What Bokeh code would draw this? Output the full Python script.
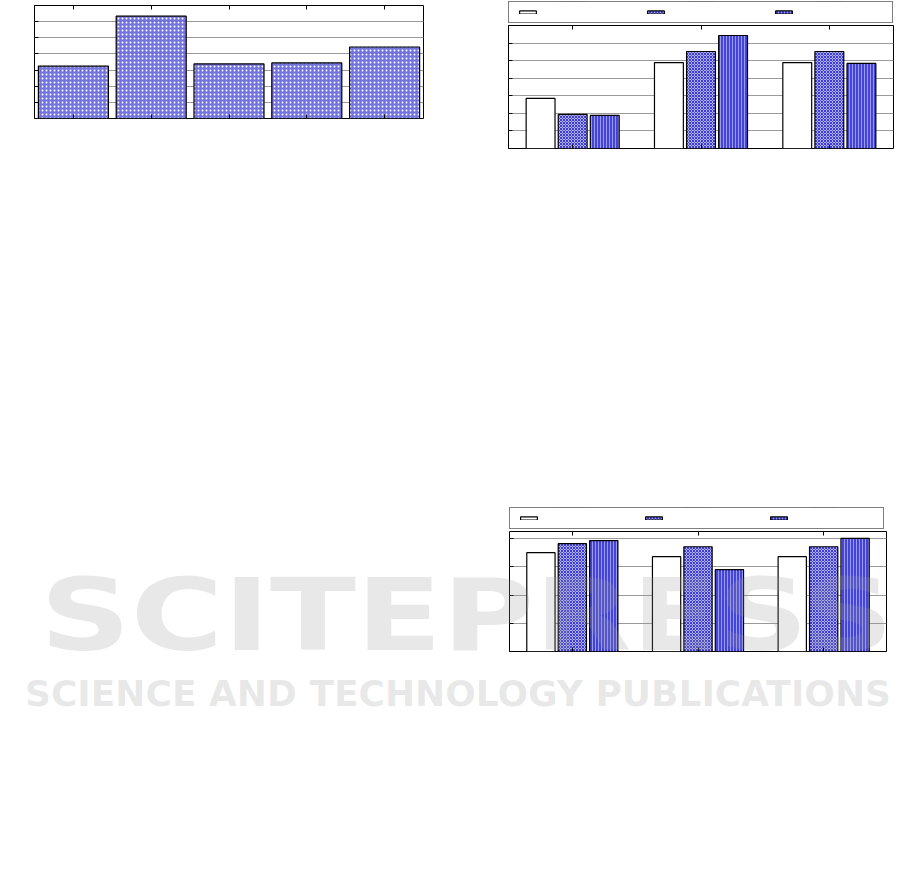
from bokeh.plotting import figure
from bokeh.models import (Range1d, FactorRange, CategoricalAxis, FixedTicker,
                          Legend, LegendItem, ColumnDataSource, Div, Spacer)
from bokeh.layouts import column, row
from bokeh.transform import dodge
from bokeh.embed import file_html
from bokeh.resources import INLINE

# ---------------- data ----------------
cats1 = ["1", "2", "3", "4", "5"]
vals1 = [3.25, 6.34, 3.38, 3.44, 4.43]
ticks1 = [0, 1, 2, 3, 4, 5, 6, 7]

groups = ["1", "2", "3"]

c2_a = [2.85, 4.89, 4.89]
c2_b = [1.94, 5.52, 5.52]
c2_c = [1.88, 6.43, 4.84]
ticks2 = [0, 1, 2, 3, 4, 5, 6, 7]

c3_a = [3.50, 3.36, 3.36]
c3_b = [3.82, 3.71, 3.71]
c3_c = [3.93, 2.90, 4.01]
ticks3 = [0, 1, 2, 3, 4]

wm_title = "SCITEPRESS"
wm_sub = "SCIENCE AND TECHNOLOGY PUBLICATIONS"

# ---------------- styles ----------------
GRID = "#9a9a9a"
STYLE_A = dict(fill_color="white", line_color="black", line_width=1.2)
STYLE_B = dict(fill_color="#b0b0f0", hatch_pattern="diagonal_cross", hatch_color="#3c3cd2",
               hatch_scale=3, hatch_weight=1, line_color="black", line_width=1.2)
STYLE_C = dict(fill_color="#4444d8", hatch_pattern="vertical_line", hatch_color="#9a9af2",
               hatch_scale=3, hatch_weight=1, line_color="black", line_width=1.2)
STYLE_1 = dict(fill_color="#5c5cd8", fill_alpha=0.85, hatch_pattern="dot", hatch_color="white",
               hatch_scale=4, hatch_weight=1.3, line_color="black", line_width=1.2)


def style_axis(ax):
    ax.major_tick_in = 4
    ax.major_tick_out = 0
    ax.minor_tick_in = 0
    ax.minor_tick_out = 0
    ax.major_tick_line_color = "black"
    ax.axis_line_color = None
    ax.major_label_text_color = None
    ax.major_label_standoff = 0


def base_fig(cats, ymax, ticks, width, height, mb):
    p = figure(x_range=FactorRange(*cats, range_padding=0), y_range=Range1d(0, ymax),
               width=width, height=height, output_backend="svg", toolbar_location=None,
               min_border_left=mb[0], min_border_right=mb[1], min_border_top=mb[2],
               min_border_bottom=mb[3])
    p.outline_line_color = "black"
    p.outline_line_width = 1
    p.background_fill_color = "white"
    p.border_fill_color = "white"
    p.xgrid.grid_line_color = None
    p.ygrid.grid_line_color = GRID
    p.ygrid.grid_line_width = 1
    p.yaxis.ticker = FixedTicker(ticks=ticks)
    p.ygrid.ticker = FixedTicker(ticks=ticks)
    style_axis(p.xaxis[0])
    style_axis(p.yaxis[0])
    top = CategoricalAxis()
    style_axis(top)
    p.add_layout(top, "above")
    return p


def legend_fig(width, left, right, lw, spacing, a, b, c):
    # legend-only strip: the series are drawn on a value window that shows none of them,
    # so only their legend swatches appear
    q = figure(x_range=FactorRange(*groups, range_padding=0), y_range=Range1d(-2, -1),
               width=width, height=25, output_backend="svg", toolbar_location=None,
               x_axis_location=None, y_axis_location=None, min_border_left=left,
               min_border_right=right, min_border_top=1, min_border_bottom=0)
    q.outline_line_color = None
    q.xgrid.grid_line_color = None
    q.ygrid.grid_line_color = None
    q.border_fill_color = "white"
    src = ColumnDataSource(dict(g=groups, a=a, b=b, c=c))
    rends = [q.vbar(x="g", top=col, width=0.2, source=src, **st)
             for col, st in (("a", STYLE_A), ("b", STYLE_B), ("c", STYLE_C))]
    items = [LegendItem(label=" ", renderers=[r]) for r in rends]
    leg = Legend(items=items, orientation="horizontal", location="top_left", margin=0,
                 padding=8, spacing=spacing, glyph_width=21, glyph_height=4,
                 label_width=lw, label_height=4, label_standoff=5, label_text_font_size="4px",
                 label_text_color=None,
                 border_line_color="black", border_line_width=1, background_fill_color="white")
    q.add_layout(leg, "center")
    return q


def grouped(p, a, b, c):
    src = ColumnDataSource(dict(g=groups, a=a, b=b, c=c))
    p.vbar(x=dodge("g", -0.25, range=p.x_range), top="a", width=0.225, source=src, **STYLE_A)
    p.vbar(x=dodge("g", 0.0, range=p.x_range), top="b", width=0.225, source=src, **STYLE_B)
    p.vbar(x=dodge("g", 0.25, range=p.x_range), top="c", width=0.225, source=src, **STYLE_C)


# ---------------- chart 1 ----------------
p1 = base_fig(cats1, 7, ticks1, 460, 150, (34, 37, 5, 32))
src1 = ColumnDataSource(dict(cat=cats1, val=vals1))
p1.vbar(x="cat", top="val", width=0.9, source=src1, **STYLE_1)

# ---------------- chart 2 ----------------
leg2 = legend_fig(437, 48, 4, 85, 17, c2_a, c2_b, c2_c)
p2 = base_fig(groups, 7, ticks2, 437, 125, (48, 4, 0, 2))
grouped(p2, c2_a, c2_b, c2_c)

# ---------------- chart 3 ----------------
leg3 = legend_fig(397, 9, 11, 81, 18, c3_a, c3_b, c3_c)
p3 = base_fig(groups, 4.25, ticks3, 397, 130, (9, 11, 0, 10))
grouped(p3, c3_a, c3_b, c3_c)

# watermark overlay (very light text over the lower part of the page)
wm_html = (
    '<div style="position:relative;width:897px;height:875px;pointer-events:none;">'
    '<div style="position:absolute;left:35px;top:561px;font:bold 100px \'DejaVu Sans\';'
    'line-height:100px;white-space:nowrap;color:rgba(150,150,150,0.22);'
    'transform:scaleX(1.26);transform-origin:0 0;">' + wm_title + '</div>'
    '<div style="position:absolute;left:20px;top:671px;font:bold 36px \'DejaVu Sans\';'
    'line-height:36px;white-space:nowrap;color:rgba(150,150,150,0.22);">' + wm_sub + '</div>'
    '</div>'
)
wm = Div(text=wm_html, width=897, height=875,
         styles={"position": "absolute", "left": "0px", "top": "0px", "z-index": "10",
                 "pointer-events": "none"})

top_row = row(p1, column(leg2, p2, spacing=0), spacing=0)
bottom_row = row(Spacer(width=500, height=10), column(leg3, p3, spacing=0), spacing=0)
layout = column(top_row, Spacer(width=10, height=356), bottom_row, wm, spacing=0)

open("out.html", "w").write(file_html(layout, INLINE))
